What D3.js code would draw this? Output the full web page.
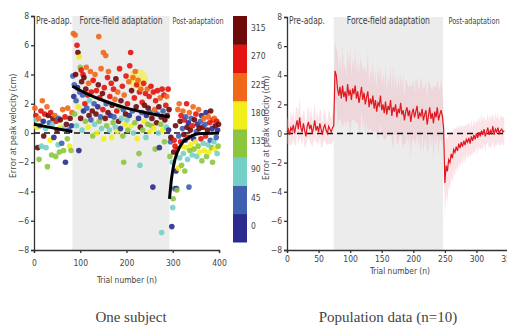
<!DOCTYPE html>
<html>
<head>
<meta charset="utf-8">
<script src="https://cdn.jsdelivr.net/npm/d3@7"></script>
<style>
  body { margin: 0; background: #fff; }
  svg text { fill: #444; }
</style>
</head>
<body>
<svg id="chart" width="507" height="327"></svg>
<script>
// ---- data: one subject (left) ----
// trial number, error at peak velocity (cm), target direction index (0 = 0 deg ... 7 = 315 deg)
const subjTrial = [
  2,4,5,6,8,10,11,13,15,16,18,20,21,23,25,26,28,29,31,33,35,36,38,40,41,43,45,47,48,50,52,53,55,57,58,60,62,64,65,67,68,70,72,73,75,77,78,80,81,82,
  84,85,86,87,88,89,90,91,92,93,94,95,96,97,98,99,100,101,102,103,104,105,106,107,108,110,111,112,113,114,116,117,118,119,120,122,123,124,126,127,128,130,131,132,134,135,136,138,139,140,
  141,142,144,145,146,148,149,150,151,152,154,155,156,157,159,160,161,163,164,165,167,168,169,171,172,173,175,176,177,179,180,181,183,184,185,187,188,189,191,192,193,194,195,197,198,199,
  201,202,203,205,206,207,209,210,211,213,214,215,217,218,219,221,222,223,225,226,227,228,229,230,231,233,234,235,237,238,239,241,242,243,245,246,247,249,250,251,253,254,255,257,258,259,
  261,262,263,265,266,267,269,270,271,273,274,275,276,277,278,279,281,282,283,285,286,287,288,290,291,292,
  294,295,296,298,299,300,301,302,303,304,305,306,307,308,309,310,311,312,313,314,315,316,317,318,319,320,321,322,323,324,325,326,327,328,329,330,331,332,333,334,335,336,337,338,339,340,
  342,343,344,345,346,347,349,350,351,352,354,355,356,357,358,360,361,362,363,365,366,367,368,370,371,372,373,375,376,377,378,380,381,382,384,385,386,387,389,390,391,392,394,395,396,397,398,399
];
const subjError = [
  1.7,1.2,0.9,0.4,-1.0,1.0,-1.8,0.5,1.5,-0.9,2.2,0.8,-0.2,1.3,0.3,-1.0,1.8,-2.3,1.2,0.7,-0.5,1.4,-1.5,0.6,1.0,-0.3,1.2,-1.6,0.8,0.2,-0.8,1.0,-1.3,0.9,0.4,-0.7,1.6,-1.2,0.3,1.1,-2.0,0.6,-0.4,1.7,0.2,-0.9,1.0,-1.2,0.5,1.4,
  3.9,6.8,2.5,3.3,1.3,6.7,4.0,2.2,0.5,6.0,3.1,5.5,1.8,-1.2,5.2,2.8,4.5,1.0,4.3,3.5,0.2,2.6,4.0,1.5,3.8,2.0,0.8,3.0,4.5,1.7,2.6,0.4,3.4,1.2,2.2,4.2,0.9,2.8,1.5,-0.2,3.6,2.0,0.6,4.0,1.3,2.9,0.0,1.8,3.3,6.6,
  0.8,2.4,1.1,4.4,0.3,2.7,1.6,5.5,-0.4,3.1,1.0,5.3,2.0,0.5,3.8,1.4,4.2,0.2,2.5,1.2,3.4,-0.3,1.9,0.7,3.0,1.1,2.3,0.4,3.7,1.5,0.1,2.8,0.8,1.8,4.4,0.3,2.2,1.0,3.2,-0.2,1.6,-2.0,2.6,0.6,1.3,3.9,
  0.9,2.0,0.2,3.5,1.2,4.6,5.5,0.5,2.9,1.5,3.8,0.0,2.4,0.7,4.2,1.8,3.3,-0.4,3.6,1.0,-1.4,2.8,-2.2,0.4,3.0,1.4,2.1,0.2,3.4,0.8,1.9,2.7,-0.3,1.2,3.0,0.6,1.7,2.5,0.1,1.4,3.2,0.5,1.0,-3.7,2.8,0.3,
  1.6,-1.1,2.2,0.7,1.3,2.9,0.0,1.8,-1.0,2.4,0.6,1.1,-6.8,3.0,0.2,1.5,2.6,-0.6,0.9,1.9,0.4,2.5,1.2,3.0,0.2,1.6,
  -1.6,-0.6,-0.3,-6.4,-2.0,-5.1,-4.5,-1.3,-0.5,-3.8,-0.9,0.5,-2.6,-3.8,-3.9,-1.1,1.6,-2.4,-0.2,2.0,-1.7,0.8,-0.6,1.2,-2.2,-0.9,0.3,1.5,-1.4,-0.1,0.9,-2.6,-0.5,1.1,-1.0,2.0,0.4,-1.8,-0.3,0.7,-3.7,1.4,-1.2,0.2,-0.8,1.0,
  -1.5,0.5,1.8,-0.4,-1.1,0.9,-0.6,1.3,0.1,-1.6,0.6,-0.9,1.6,0.3,-1.3,0.8,-0.4,1.2,-1.9,0.4,-0.7,1.0,-1.2,0.6,-0.2,1.4,-1.6,0.2,-0.8,1.1,-1.3,0.7,-0.5,1.5,-1.0,0.3,-2.0,0.9,-0.6,1.0,-1.1,0.5,-0.3,0.8,-1.4,0.2,-0.9,0.6
];
const subjDir = [
  5,6,2,4,7,5,3,1,6,2,5,0,7,6,2,2,5,3,7,1,4,6,3,2,7,0,5,3,6,7,2,1,3,7,4,1,5,3,2,6,0,7,3,5,1,4,7,3,0,5,
  1,5,0,1,3,5,7,1,2,6,0,7,4,0,4,1,3,7,6,7,2,1,6,0,7,6,3,7,5,1,6,4,5,7,2,5,1,6,7,3,6,1,2,5,7,6,4,0,7,5,
  3,6,1,5,2,7,6,5,4,6,7,5,1,3,6,7,5,2,6,0,6,4,7,3,6,1,5,2,7,6,4,5,7,3,6,0,7,2,6,3,1,3,5,4,7,6,
  2,6,3,5,0,6,6,4,7,1,5,2,6,3,5,7,6,4,5,0,3,6,2,7,5,1,6,3,6,4,7,6,2,0,5,3,7,6,4,1,6,3,7,0,6,4,
  5,3,6,7,1,6,2,7,0,5,3,7,2,6,4,1,6,3,7,6,2,5,7,6,0,7,
  3,1,7,0,2,2,3,7,6,1,6,7,0,0,3,6,5,4,1,5,2,7,6,6,3,4,1,5,2,7,6,3,0,1,4,6,7,2,6,0,1,5,3,7,4,1,
  2,6,5,0,3,7,4,6,1,2,0,3,5,7,4,1,6,0,3,7,2,5,4,1,6,0,3,7,2,5,4,6,1,7,3,0,3,6,2,5,4,7,1,6,2,0,3,7
];
const dirLabels = [0, 45, 90, 135, 180, 225, 270, 315];
const dirColors = ["#2b2b8f", "#3f5fb0", "#74cfc6", "#8cc63f", "#f2ee1a", "#f0681a", "#e3140f", "#6e0a0a"];

// exponential fits drawn in black (trial, error)
const fitPre   = [[0, 0.6], [40, 0.35], [83, 0.1]];
const fitAdapt = [[83, 3.2], [120, 2.6], [160, 2.1], [200, 1.7], [240, 1.4], [293, 1.1]];
const fitPost  = [[293, -4.5], [297, -3.2], [302, -2.2], [310, -1.3], [320, -0.7], [335, -0.3], [355, -0.05], [400, 0]];
const highlight = { trial: 225, error: 3.7 };

// ---- data: population (right), one value every 2 trials from trial 0 ----
const popMean = [
  0.1,0.3,-0.1,0.4,0.2,0.6,0.0,0.5,0.9,0.3,1.1,0.4,0.1,0.7,0.2,-0.2,0.5,0.8,0.3,0.6,0.0,0.4,0.9,0.2,0.5,0.1,0.7,0.3,-0.1,0.4,0.6,0.2,0.0,0.5,0.3,0.1,0.4,
  0.5,4.3,4.0,3.1,2.6,3.2,2.4,3.3,2.5,2.9,2.2,3.4,2.6,3.0,2.3,3.1,2.7,3.3,2.4,2.9,2.1,2.6,3.2,2.3,2.8,2.0,2.5,2.9,1.8,2.4,2.0,2.6,1.7,2.3,1.5,2.1,1.9,2.6,
  1.6,2.0,1.4,2.2,1.3,1.9,1.6,2.3,1.2,1.8,1.5,2.0,1.1,1.7,1.4,2.1,1.3,1.6,0.9,1.5,1.8,1.2,1.6,0.8,1.4,1.7,1.1,1.5,1.9,1.0,1.4,1.2,1.7,0.9,1.3,1.6,0.6,1.2,
  1.8,1.0,1.4,0.7,1.5,1.1,1.8,0.9,1.3,1.6,1.2,0.4,
  -3.4,-2.2,-2.6,-1.8,-2.0,-1.4,-1.7,-1.1,-1.3,-0.9,-1.2,-0.7,-1.0,-0.6,-0.9,-0.5,-0.8,-0.4,-0.6,-0.3,-0.7,-0.2,-0.5,-0.1,
  -0.4,0.0,-0.3,0.1,-0.2,0.2,-0.1,0.3,-0.2,0.1,0.4,-0.1,0.2,0.0,0.5,-0.1,0.3,0.1,0.4,0.0,0.2,0.3,0.1,0.2
];
const popSd = [
  0.8,1.0,0.7,1.2,0.9,1.0,0.8,1.3,0.9,1.1,1.4,0.8,1.0,0.9,1.2,0.7,1.0,1.1,0.8,1.3,0.9,1.0,1.2,0.8,1.1,0.9,1.0,1.3,0.8,1.0,1.1,0.9,0.8,1.2,1.0,0.9,1.0,
  1.0,
  2.0,1.8,2.6,1.7,2.2,1.6,2.9,1.8,2.0,1.7,2.4,1.9,3.0,1.6,2.1,1.8,2.5,1.7,2.2,1.9,2.7,1.6,2.0,1.8,2.3,1.7,2.8,1.6,2.0,1.9,
  2.4,1.7,2.1,1.6,2.6,1.8,2.0,1.7,2.2,1.9,2.5,1.6,2.0,1.8,2.3,1.7,2.9,1.6,2.1,1.8,2.4,1.7,2.0,1.9,2.6,1.6,2.2,1.8,2.0,1.7,
  2.5,1.9,2.1,1.6,2.3,1.8,2.0,1.7,2.7,1.6,2.2,1.9,2.0,1.8,2.4,1.7,2.1,1.6,2.5,1.8,2.0,1.9,2.3,1.7,2.1,1.8,
  1.5,
  2.4,2.0,2.2,1.8,1.9,1.6,1.7,1.5,1.6,1.4,1.5,1.3,1.4,1.2,1.3,1.1,1.3,1.0,1.2,1.1,1.0,1.2,0.9,1.1,
  1.0,0.9,1.1,1.0,0.9,1.2,1.0,0.9,1.1,0.8,1.0,0.9,1.1,1.0,0.9,1.0,1.1,0.9,1.0,0.8,1.0,0.9,1.0,0.9
];

const yTicks = [-8, -6, -4, -2, 0, 2, 4, 6, 8];
const leftXTicks = [0, 100, 200, 300, 400];
const rightXTicks = [0, 50, 100, 150, 200, 250, 300, 350];
const leftPhases = { adaptStart: 83, postStart: 293 };
const rightPhases = { adaptStart: 74, postStart: 247 };

const svg = d3.select('#chart');
const narrow = "'DejaVu Sans Condensed', 'Liberation Sans Narrow', sans-serif";

// text squeezed to a given width, to mimic the condensed face of the original
function fitText(g, t, x, y, w, size, anchor, fill) {
  return g.append('text')
    .attr('x', x).attr('y', y).attr('text-anchor', anchor)
    .attr('font-family', narrow).attr('font-size', size)
    .attr('textLength', w).attr('lengthAdjust', 'spacingAndGlyphs')
    .attr('fill', fill || '#444').text(t);
}

function drawFrame(g, x, y, xTicks, phases, opt) {
  // shaded force-field period
  g.append('rect')
    .attr('x', x(phases.adaptStart)).attr('y', y(8))
    .attr('width', x(phases.postStart) - x(phases.adaptStart))
    .attr('height', y(-8) - y(8))
    .attr('fill', '#ececec');

  const yAxis = g.append('g')
    .attr('transform', `translate(${x(0)},0)`)
    .call(d3.axisLeft(y).tickValues(yTicks).tickSize(3).tickPadding(2));
  const xAxis = g.append('g')
    .attr('transform', `translate(0,${y(-8)})`)
    .call(d3.axisBottom(x).tickValues(xTicks).tickSize(3).tickPadding(opt.xPad));
  [yAxis, xAxis].forEach(a => {
    a.selectAll('path, line').attr('stroke', '#333').attr('stroke-width', 1.3);
    a.selectAll('text').attr('font-family', narrow).attr('font-size', 8.5).attr('fill', '#444');
  });

  g.append('text')
    .attr('transform', `translate(${opt.yTitleX},${opt.yTitleY}) rotate(-90)`)
    .attr('text-anchor', 'middle')
    .attr('font-family', "'Open Sans', sans-serif").attr('font-size', 8.6)
    .text('Error at peak velocity (cm)');
  fitText(g, 'Trial number (n)', opt.xTitleX, opt.xTitleY, 60, 9.5, 'middle');

  // phase labels
  fitText(g, 'Pre-adap.', x(0) + 2, 24, 36, 10, 'start', '#222');
  fitText(g, 'Force-field adaptation', (x(phases.adaptStart) + x(phases.postStart)) / 2, 24, 83, 10, 'middle', '#222');
  fitText(g, 'Post-adaptation', opt.postLabelX, 24, 51, 9, 'middle', '#222');
}

function zeroLine(g, x0, x1, y) {
  g.append('line')
    .attr('x1', x0).attr('x2', x1).attr('y1', y(0)).attr('y2', y(0))
    .attr('stroke', '#111').attr('stroke-width', 1.6).attr('stroke-dasharray', '6,4');
}

// ---- left panel ----
{
  const g = svg.append('g');
  const x = d3.scaleLinear().domain([0, 400]).range([34, 219]);
  const y = d3.scaleLinear().domain([-8, 8]).range([250, 16]);
  drawFrame(g, x, y, leftXTicks, leftPhases,
    { xPad: 7, yTitleX: 16, yTitleY: 126, xTitleX: 127, xTitleY: 283, postLabelX: 198 });

  zeroLine(g, x(0), x(400), y);

  g.append('circle')
    .attr('cx', x(highlight.trial)).attr('cy', y(highlight.error)).attr('r', 10)
    .attr('fill', '#f7f01e').attr('opacity', 0.55);

  g.selectAll('.pt')
    .data(subjTrial.map((t, i) => ({ t, e: subjError[i], d: subjDir[i] })))
    .enter().append('circle')
    .attr('class', 'pt')
    .attr('cx', d => x(d.t))
    .attr('cy', d => y(d.e))
    .attr('r', 2.8)
    .attr('fill', d => dirColors[d.d])
    .attr('opacity', 0.9);

  const line = d3.line().curve(d3.curveMonotoneX).x(d => x(d[0])).y(d => y(d[1]));
  [fitPre, fitAdapt, fitPost].forEach(f => g.append('path')
    .attr('d', line(f)).attr('fill', 'none').attr('stroke', '#000').attr('stroke-width', 3));

  // colour bar
  const cb = d3.scaleBand().domain(dirLabels.slice().reverse()).range([16, 242]);
  g.selectAll('.cb')
    .data(dirLabels)
    .enter().append('rect')
    .attr('x', 233).attr('width', 14)
    .attr('y', d => cb(d)).attr('height', cb.bandwidth() + 0.5)
    .attr('fill', (d, i) => dirColors[i]);
  g.selectAll('.cbl')
    .data(dirLabels)
    .enter().append('text')
    .attr('x', 251).attr('y', d => cb(d) + cb.bandwidth() / 2 + 1)
    .attr('font-family', narrow).attr('font-size', 8.5)
    .text(d => d);

  g.append('text')
    .attr('x', 131).attr('y', 322).attr('text-anchor', 'middle')
    .attr('font-family', "'Liberation Serif', serif").attr('font-size', 15).attr('fill', '#111')
    .text('One subject');
}

// ---- right panel ----
{
  const g = svg.append('g');
  const x = d3.scaleLinear().domain([0, 350]).range([287, 508]);
  const y = d3.scaleLinear().domain([-8, 8]).range([250, 17]);
  drawFrame(g, x, y, rightXTicks, rightPhases,
    { xPad: 3, yTitleX: 269, yTitleY: 128, xTitleX: 400, xTitleY: 274, postLabelX: 474 });

  const pts = popMean.map((m, i) => ({ t: i * 2, m, s: popSd[i] ?? 1 }));

  g.append('path')
    .datum(pts)
    .attr('d', d3.area().x(d => x(d.t)).y0(d => y(d.m - d.s)).y1(d => y(d.m + d.s)))
    .attr('fill', '#f4b3bc').attr('opacity', 0.35);

  zeroLine(g, x(0), 507, y);

  g.append('path')
    .datum(pts)
    .attr('d', d3.line().x(d => x(d.t)).y(d => y(d.m)))
    .attr('fill', 'none').attr('stroke', '#e01820').attr('stroke-width', 1.2);

  g.append('text')
    .attr('x', 388).attr('y', 322).attr('text-anchor', 'middle')
    .attr('font-family', "'Liberation Serif', serif").attr('font-size', 15).attr('fill', '#111')
    .text('Population data (n=10)');
}
</script>
</body>
</html>
